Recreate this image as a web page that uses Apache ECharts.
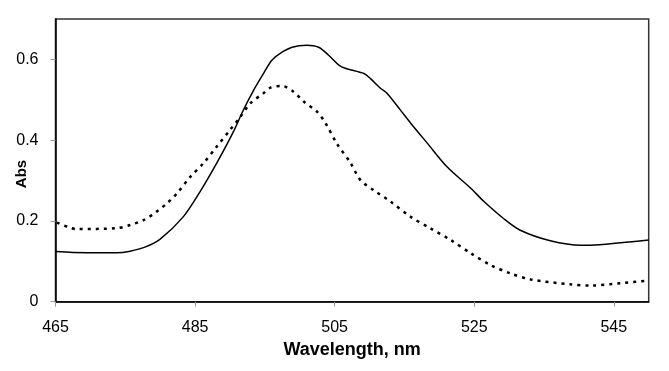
<!DOCTYPE html>
<html>
<head>
<meta charset="utf-8">
<script src="https://cdn.jsdelivr.net/npm/echarts@6/dist/echarts.min.js"></script>
<style>
html,body{margin:0;padding:0;background:#fff;}
#chart{width:669px;height:371px;}
</style>
</head>
<body>
<div id="chart"></div>
<script>
// Solid curve
const solidWavelength = [465.0, 467.5, 471.4, 473.8, 475.7, 477.8, 480.0, 483.3, 485.7, 488.1, 490.5, 491.9, 493.4, 494.8, 496.0, 497.2, 498.9, 501.0, 502.7, 504.1, 505.6, 506.5, 509.2, 510.1, 511.6, 512.5, 514.4, 515.9, 518.3, 521.1, 524.5, 526.4, 529.2, 531.6, 535.9, 540.3, 541.7, 546.0, 550.0];
const solidAbs = [0.124, 0.122, 0.121, 0.121, 0.125, 0.135, 0.155, 0.210, 0.272, 0.343, 0.421, 0.474, 0.524, 0.565, 0.598, 0.615, 0.630, 0.635, 0.630, 0.611, 0.586, 0.578, 0.565, 0.553, 0.528, 0.516, 0.475, 0.442, 0.392, 0.334, 0.281, 0.248, 0.206, 0.177, 0.151, 0.140, 0.140, 0.146, 0.153];
// Dotted curve
const dottedWavelength = [465.2, 467.1, 468.0, 473.8, 475.7, 477.6, 479.5, 481.0, 482.4, 484.3, 486.2, 488.1, 490.0, 491.5, 492.9, 494.8, 495.8, 497.5, 499.1, 500.6, 502.5, 503.7, 505.3, 507.3, 508.7, 510.6, 513.0, 515.9, 518.7, 521.6, 524.5, 527.3, 530.2, 533.1, 538.8, 541.7, 546.0, 550.0];
const dottedAbs = [0.196, 0.183, 0.180, 0.182, 0.190, 0.202, 0.223, 0.244, 0.268, 0.309, 0.343, 0.384, 0.425, 0.458, 0.491, 0.516, 0.530, 0.534, 0.520, 0.495, 0.470, 0.442, 0.392, 0.343, 0.301, 0.276, 0.248, 0.210, 0.182, 0.153, 0.120, 0.091, 0.070, 0.055, 0.043, 0.040, 0.046, 0.052];

const xTitle = 'Wavelength, nm';
const yTitle = 'Abs';

const pair = (xs, ys) => xs.map((x, i) => [x, ys[i]]);
const tickFont = {fontFamily: "'Liberation Sans', Arial, sans-serif", fontSize: 16, color: '#000'};

const chart = echarts.init(document.getElementById('chart'), null, {renderer: 'canvas'});
chart.setOption({
  animation: false,
  backgroundColor: '#fff',
  grid: {left: 55.5, right: 20.3, top: 19, bottom: 69.3, show: true, borderColor: '#333', borderWidth: 1.5, backgroundColor: 'transparent'},
  xAxis: {
    type: 'value', min: 465, max: 550, interval: 20,
    name: xTitle, nameLocation: 'middle', nameGap: 38,
    nameTextStyle: {fontFamily: "'Liberation Sans', Arial, sans-serif", fontWeight: 'bold', fontSize: 18, color: '#000'},
    axisLine: {show: true, lineStyle: {color: '#000', width: 1.5}},
    axisTick: {show: true, length: 5, lineStyle: {color: '#999'}},
    axisLabel: Object.assign({margin: 18, showMaxLabel: false}, tickFont),
    splitLine: {show: false}
  },
  yAxis: {
    type: 'value', min: 0, max: 0.7, interval: 0.2,
    axisLine: {show: true, lineStyle: {color: '#000', width: 1.5}},
    axisTick: {show: true, length: 5, lineStyle: {color: '#999'}},
    axisLabel: Object.assign({margin: 17, showMaxLabel: false, formatter: v => (v === 0 ? '0' : v.toFixed(1))}, tickFont),
    splitLine: {show: false}
  },
  graphic: [{
    type: 'text', x: 21.5, y: 174, rotation: Math.PI / 2,
    style: {text: yTitle, fontFamily: "'Liberation Sans', Arial, sans-serif", fontWeight: 'bold', fontSize: 15, fill: '#000', align: 'center', verticalAlign: 'middle'}
  }],
  series: [
    {type: 'line', data: pair(solidWavelength, solidAbs), showSymbol: false, smooth: 0.3,
     lineStyle: {color: '#000', width: 1.5}},
    {type: 'line', data: pair(dottedWavelength, dottedAbs), showSymbol: false, smooth: 0.3,
     lineStyle: {color: '#000', width: 2.5, type: [3, 5], cap: 'butt'}}
  ]
});
</script>
</body>
</html>
